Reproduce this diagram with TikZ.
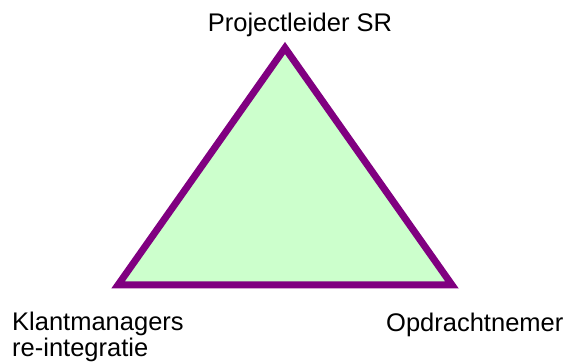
\documentclass[tikz,border=0pt]{standalone}
\usepackage{fontspec}
\setmainfont{Liberation Sans}
\definecolor{tripurple}{HTML}{800080}
\definecolor{trigreen}{HTML}{CCFFCC}
\begin{document}
\begin{tikzpicture}[x=1pt,y=-1pt,
  lbl/.style={inner sep=0pt,font=\fontsize{25.5}{26}\selectfont},
  tri/.style={draw=tripurple,fill=trigreen,line width=7pt,line join=miter}]
\useasboundingbox (0,0) rectangle (573,363);
\coordinate (A) at (285,48);
\coordinate (B) at (118,285);
\coordinate (C) at (452,285);
\draw[tri] (A) -- (B) -- (C) -- cycle;
\node[lbl,anchor=base] (top) at (300,32) {Projectleider SR};
\node[lbl,anchor=base west] (right) at (386,332) {Opdrachtnemer};
\node[lbl,anchor=north west,align=left] (left) at (12,312) {Klantmanagers\\re-integratie};
\end{tikzpicture}
\end{document}
